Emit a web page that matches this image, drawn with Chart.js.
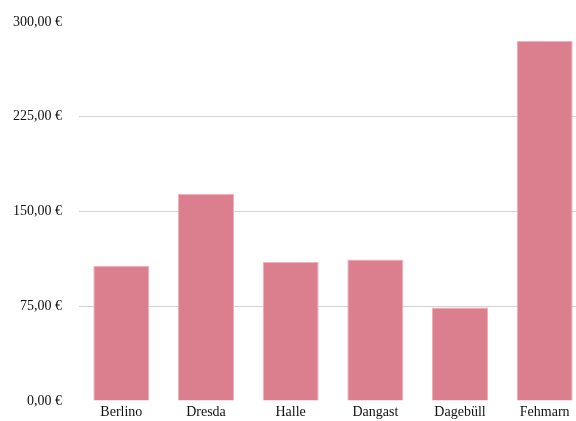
<!DOCTYPE html>
<html>
<head>
<meta charset="utf-8">
<script src="https://cdn.jsdelivr.net/npm/chart.js@4/dist/chart.umd.min.js"></script>
<style>
  html, body { margin: 0; padding: 0; background: #ffffff; overflow: hidden; width: 576px; height: 421px; }
  canvas { display: block; }
</style>
</head>
<body>
<canvas id="c" width="587" height="421"></canvas>
<script>
// Prezzi per destinazione (euro)
const categories = ['Berlino', 'Dresda', 'Halle', 'Dangast', 'Dagebüll', 'Fehmarn'];
const prices = [107, 164, 110, 112, 74, 285];
const yMin = 0;
const yMax = 300;
const yStep = 75;

const euro = v => v.toFixed(2).replace('.', ',') + ' €';
const serif = "'Liberation Serif', 'Times New Roman', serif";

new Chart(document.getElementById('c'), {
  type: 'bar',
  data: {
    labels: categories,
    datasets: [{
      data: prices,
      backgroundColor: '#db7f8f',
      borderColor: '#eeb3bd',
      borderWidth: 1,
      barPercentage: 0.662,
      categoryPercentage: 1.0
    }]
  },
  options: {
    responsive: false,
    animation: false,
    layout: { padding: { top: 22, left: 0, right: 0, bottom: 0 } },
    plugins: { legend: { display: false }, tooltip: { enabled: false } },
    scales: {
      x: {
        grid: { display: false, drawTicks: false },
        border: { display: false },
        ticks: { color: '#111111', font: { family: serif, size: 14 }, padding: 3 },
        afterFit: s => { s.height = 20; }
      },
      y: {
        min: yMin,
        max: yMax,
        grid: {
          drawTicks: false,
          color: ctx => (ctx.tick && (ctx.tick.value === yMin || ctx.tick.value === yMax)) ? 'rgba(0,0,0,0)' : '#d3d3d3',
          lineWidth: 1
        },
        border: { display: false },
        ticks: {
          stepSize: yStep,
          padding: 17,
          color: '#111111',
          font: { family: serif, size: 14 },
          callback: v => euro(v)
        },
        afterFit: s => {
          s.width = 79;
          // keep the tick padding from pushing the plot area inwards vertically
          s.paddingTop = 0;
          s.paddingBottom = 0;
        }
      }
    }
  }
});
</script>
</body>
</html>
